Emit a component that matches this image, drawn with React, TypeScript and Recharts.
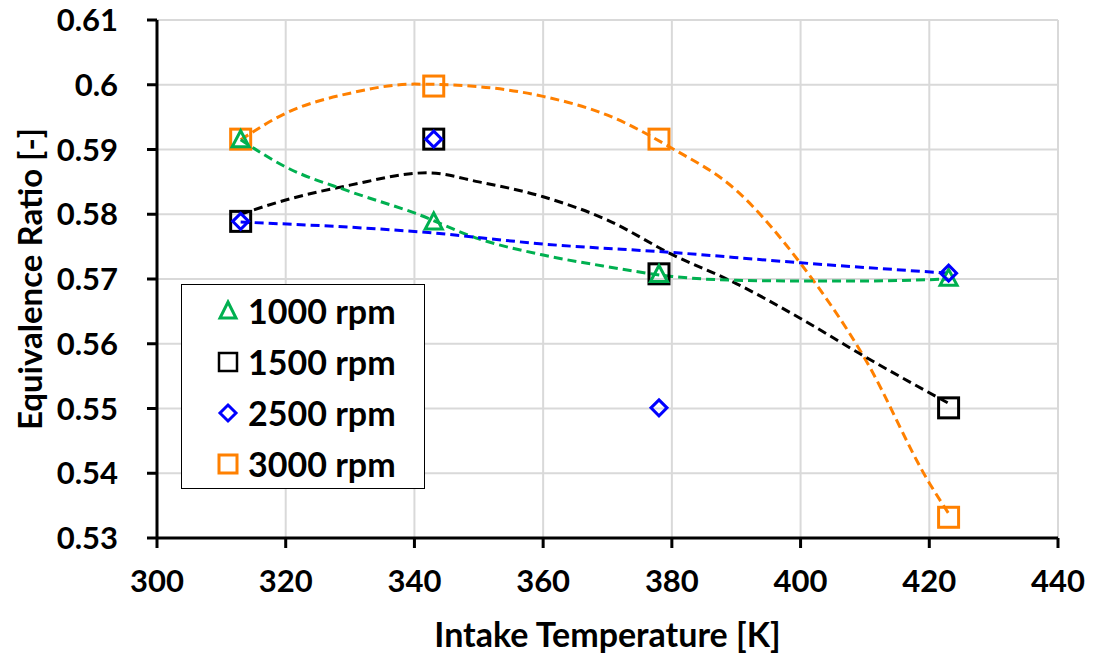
import React from 'react'
import { ComposedChart, Line, Scatter, XAxis, YAxis, CartesianGrid, Label } from 'recharts'

const temps = [313, 343, 378, 423]
const phi1000 = [0.5915, 0.5788, 0.5707, 0.5701]
const phi1500 = [0.5789, 0.5916, 0.5708, 0.5501]
const phi2500 = [0.5789, 0.5916, 0.5501, 0.5709]
const phi3000 = [0.5916, 0.5998, 0.5916, 0.5332]

// dashed trendlines
const trend1000X = [313, 320, 330, 340, 350, 360, 370, 380, 390, 400, 410, 423]
const trend1000Y = [0.5915, 0.5873, 0.5835, 0.5802, 0.5762, 0.5737, 0.5719, 0.5704, 0.5698, 0.5697, 0.5697, 0.57]
const trend1500X = [313, 320, 330, 342, 350, 360, 370, 380, 390, 400, 410, 423]
const trend1500Y = [0.58, 0.5822, 0.5845, 0.5864, 0.585, 0.5827, 0.5791, 0.5738, 0.5693, 0.5639, 0.558, 0.5508]
const trend2500X = [313, 343, 360, 380, 400, 423]
const trend2500Y = [0.5788, 0.5771, 0.5754, 0.5741, 0.5725, 0.5709]
const trend3000X = [313, 320, 330, 340, 350, 360, 370, 380, 390, 400, 410, 420, 423]
const trend3000Y = [0.5915, 0.5956, 0.5987, 0.6001, 0.5997, 0.5982, 0.5953, 0.5902, 0.5837, 0.5724, 0.5577, 0.5385, 0.5338]

const xTicks = [300, 320, 340, 360, 380, 400, 420, 440]
const yTicks = [0.53, 0.54, 0.55, 0.56, 0.57, 0.58, 0.59, 0.6, 0.61]

const GREEN = '#00b050'
const BLACK = '#000000'
const BLUE = '#0000ff'
const ORANGE = '#ff8000'
const FONT = 'Lato, sans-serif'

const pts = (xs: number[], ys: number[]) => xs.map((x, i) => ({ x, y: ys[i] }))

const Triangle = (p: any) => (
  <path d={`M${p.cx},${p.cy - 9} L${p.cx + 8.5},${p.cy + 7} L${p.cx - 8.5},${p.cy + 7} Z`} fill="none" stroke={GREEN} strokeWidth={3} />
)
const Square = (color: string) => (p: any) => (
  <rect x={p.cx - 10} y={p.cy - 10} width={20} height={20} fill="none" stroke={color} strokeWidth={3} />
)
const Diamond = (p: any) => (
  <path d={`M${p.cx},${p.cy - 8} L${p.cx + 8},${p.cy} L${p.cx},${p.cy + 8} L${p.cx - 8},${p.cy} Z`} fill="none" stroke={BLUE} strokeWidth={3} />
)

const legendItems = [
  { name: '1000 rpm', icon: <path d="M12,3 L20,19 L4,19 Z" fill="none" stroke={GREEN} strokeWidth={3} /> },
  { name: '1500 rpm', icon: <rect x={3} y={3} width={18} height={18} fill="none" stroke={BLACK} strokeWidth={2.5} /> },
  { name: '2500 rpm', icon: <path d="M12,4 L20,12 L12,20 L4,12 Z" fill="none" stroke={BLUE} strokeWidth={3} /> },
  { name: '3000 rpm', icon: <rect x={3} y={3} width={18} height={18} fill="none" stroke={ORANGE} strokeWidth={3} /> },
]

const tickStyle = { fill: '#000', fontSize: 31, fontWeight: 700, fontFamily: FONT }

export default function App() {
  return (
    <div style={{ position: 'relative', width: 1085, height: 653, marginTop: -8 }}>
      <ComposedChart width={1085} height={653} margin={{ top: 20, right: 35, bottom: 0, left: 0 }}>
        <CartesianGrid stroke="#d9d9d9" strokeWidth={2} />
        <XAxis
          type="number"
          dataKey="x"
          domain={[300, 440]}
          ticks={xTicks}
          height={115}
          tick={tickStyle}
          tickSize={10}
          tickMargin={22}
          axisLine={{ stroke: '#000', strokeWidth: 3 }}
          tickLine={{ stroke: '#000', strokeWidth: 3 }}
        >
          <Label
            content={(p: any) => (
              <text x={p.viewBox.x + p.viewBox.width / 2} y={633} textAnchor="middle" dominantBaseline="central" fontFamily={FONT} fontWeight={700} fontSize={34} fill="#000">
                Intake Temperature [K]
              </text>
            )}
          />
        </XAxis>
        <YAxis
          type="number"
          domain={[0.53, 0.61]}
          ticks={yTicks}
          width={149}
          tick={tickStyle}
          tickSize={10}
          tickMargin={29}
          tickFormatter={(v: number) => String(Number(v.toFixed(2)))}
          axisLine={{ stroke: '#000', strokeWidth: 3 }}
          tickLine={{ stroke: '#000', strokeWidth: 3 }}
        >
          <Label
            content={(p: any) => {
              const cy = p.viewBox.y + p.viewBox.height / 2
              return (
                <text x={21} y={cy} transform={`rotate(-90 21 ${cy})`} textAnchor="middle" dominantBaseline="central" fontFamily={FONT} fontWeight={700} fontSize={33} fill="#000">
                  Equivalence Ratio [-]
                </text>
              )
            }}
          />
        </YAxis>
        <Line data={pts(trend3000X, trend3000Y)} dataKey="y" type="monotone" stroke={ORANGE} strokeWidth={3} strokeDasharray="9 5" dot={false} activeDot={false} isAnimationActive={false} />
        <Line data={pts(trend1500X, trend1500Y)} dataKey="y" type="monotone" stroke={BLACK} strokeWidth={3} strokeDasharray="9 5" dot={false} activeDot={false} isAnimationActive={false} />
        <Line data={pts(trend1000X, trend1000Y)} dataKey="y" type="monotone" stroke={GREEN} strokeWidth={3} strokeDasharray="9 5" dot={false} activeDot={false} isAnimationActive={false} />
        <Line data={pts(trend2500X, trend2500Y)} dataKey="y" type="monotone" stroke={BLUE} strokeWidth={3} strokeDasharray="9 5" dot={false} activeDot={false} isAnimationActive={false} />
        <Scatter data={pts(temps, phi3000)} dataKey="y" shape={Square(ORANGE)} isAnimationActive={false} />
        <Scatter data={pts(temps, phi1500)} dataKey="y" shape={Square(BLACK)} isAnimationActive={false} />
        <Scatter data={pts(temps, phi1000)} dataKey="y" shape={Triangle} isAnimationActive={false} />
        <Scatter data={pts(temps, phi2500)} dataKey="y" shape={Diamond} isAnimationActive={false} />
      </ComposedChart>
      <div
        style={{
          position: 'absolute',
          left: 173,
          top: 284,
          width: 244,
          height: 205,
          border: '1.5px solid #000',
          background: '#fff',
          boxSizing: 'border-box',
          paddingTop: 0,
          fontFamily: FONT,
          fontWeight: 700,
          fontSize: 34,
        }}
      >
        {legendItems.map(it => (
          <div key={it.name} style={{ display: 'flex', alignItems: 'center', height: 51, paddingLeft: 34 }}>
            <svg width={24} height={24} style={{ marginRight: 8 }}>{it.icon}</svg>
            <span>{it.name}</span>
          </div>
        ))}
      </div>
    </div>
  )
}
